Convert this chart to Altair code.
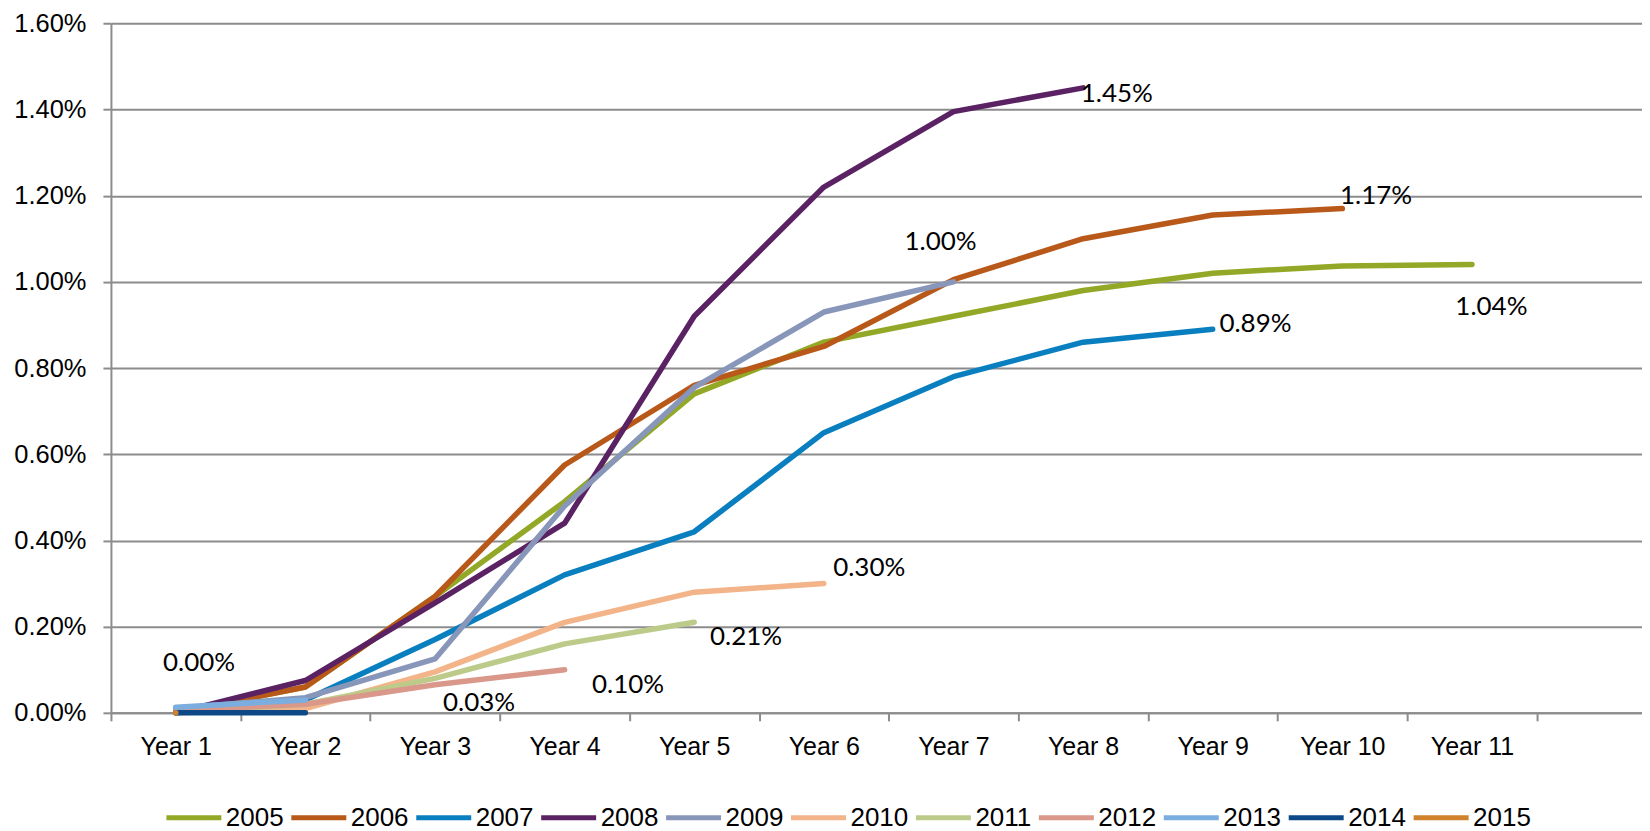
import altair as alt
import pandas as pd

# ---- data ----
series_names = ["2005", "2006", "2007", "2008", "2009", "2010",
                "2011", "2012", "2013", "2014", "2015"]
colors = ["#93A826", "#B85819", "#0A7FBF", "#5A2263", "#8896BA", "#F2B488",
          "#BDCB8A", "#D9988A", "#7BAEDF", "#0D4987", "#D0822C"]

s2005 = [0.0000, 0.0006, 0.0027, 0.0049, 0.0074, 0.0086, 0.0092, 0.0098, 0.0102, 0.01037, 0.0104]
s2006 = [0.0000, 0.0006, 0.0027, 0.00575, 0.0076, 0.0085, 0.01005, 0.0110, 0.01155, 0.0117]
s2007 = [0.0001, 0.0003, 0.0017, 0.0032, 0.0042, 0.0065, 0.0078, 0.0086, 0.0089]
s2008 = [0.0000, 0.00075, 0.00255, 0.0044, 0.0092, 0.0122, 0.01395, 0.0145]
s2009 = [0.0001, 0.00035, 0.00125, 0.0048, 0.00755, 0.0093, 0.0100]
s2010 = [0.0000, 0.0001, 0.00095, 0.0021, 0.0028, 0.0030]
s2011 = [0.0000, 0.0002, 0.0008, 0.0016, 0.0021]
s2012 = [0.00005, 0.0002, 0.00065, 0.0010]
s2013 = [0.00013, 0.0003]
s2014 = [0.0000, 0.0000]
s2015 = [0.0000]

all_series = [s2005, s2006, s2007, s2008, s2009, s2010,
              s2011, s2012, s2013, s2014, s2015]

year_labels = ["Year 1", "Year 2", "Year 3", "Year 4", "Year 5", "Year 6",
               "Year 7", "Year 8", "Year 9", "Year 10", "Year 11"]
y_ticks = [0.0, 0.002, 0.004, 0.006, 0.008, 0.010, 0.012, 0.014, 0.016]

# data labels (text, position in year units, position in value units)
label_text = ["1.45%", "1.17%", "1.04%", "1.00%", "0.89%", "0.30%",
              "0.21%", "0.10%", "0.03%", "0.00%"]
label_year = [8.26, 10.26, 11.15, 6.90, 9.33, 6.35, 5.40, 4.49, 3.34, 1.18]
label_value = [0.01435, 0.01198, 0.00942, 0.01093, 0.00903, 0.00336,
               0.00175, 0.00065, 0.00023, 0.00116]

rows = []
for name, vals in zip(series_names, all_series):
    for i, v in enumerate(vals):
        rows.append({"series": name, "year": i + 1, "value": v, "order": i})
df = pd.DataFrame(rows)

lab_df = pd.DataFrame({"text": label_text, "year": label_year, "value": label_value})

# ---- layout ----
PLOT_W = 1532
PLOT_H = 690
BAND = 129.7
x_max = 0.5 + PLOT_W / BAND

boundaries = [i + 0.5 for i in range(12)]
label_expr = "datum.value < 11 ? 'Year ' + (datum.value + 0.5) : ''"

GRID = "#8C8C8C"
AXFONT = "Liberation Sans"

x_scale = alt.Scale(domain=[0.5, x_max], nice=False, zero=False)
y_scale = alt.Scale(domain=[0, 0.016], nice=False)

x_axis = alt.Axis(
    values=boundaries, labelExpr=label_expr, labelOffset=BAND / 2,
    tickSize=8, labelPadding=14, grid=False, title=None,
    labelFlush=False, labelOverlap=False, labelFont=AXFONT,
    labelFontSize=25, labelColor="#000000",
    domainColor=GRID, domainWidth=2, tickColor=GRID, tickWidth=2,
)
y_axis = alt.Axis(
    values=y_ticks, format=".2%", tickSize=8, labelPadding=17,
    title=None, labelFont=AXFONT, labelFontSize=25.5, labelColor="#000000",
    gridColor=GRID, gridWidth=2, domainColor=GRID, domainWidth=2,
    tickColor=GRID, tickWidth=2,
)

x_enc = alt.X("year:Q", scale=x_scale, axis=x_axis)
y_enc = alt.Y("value:Q", scale=y_scale, axis=y_axis)

lines = alt.Chart(df).mark_line(strokeWidth=5.5, strokeCap="round", strokeJoin="round").encode(
    x=x_enc,
    y=y_enc,
    order="order:Q",
    color=alt.Color(
        "series:N",
        scale=alt.Scale(domain=series_names, range=colors),
        legend=alt.Legend(
            orient="none", direction="horizontal", legendX=53, legendY=765,
            title=None, symbolType="stroke", symbolSize=3025,
            symbolStrokeWidth=5, labelFontSize=26, labelFont=AXFONT,
            labelColor="#000000", labelOffset=2, columnPadding=-3,
            padding=0, labelLimit=0,
        ),
    ),
)

labels = alt.Chart(lab_df).mark_text(
    font="Lato", fontSize=26, color="#000000", align="center", baseline="middle"
).encode(
    x=x_enc,
    y=y_enc,
    text="text:N",
)

chart = alt.layer(lines, labels).properties(
    width=PLOT_W,
    height=PLOT_H,
    padding={"left": 5, "top": 3, "right": 0, "bottom": 0},
    background="white",
).configure_view(stroke=None)

chart.save("out.html", embed_options={"renderer": "svg", "actions": False})
